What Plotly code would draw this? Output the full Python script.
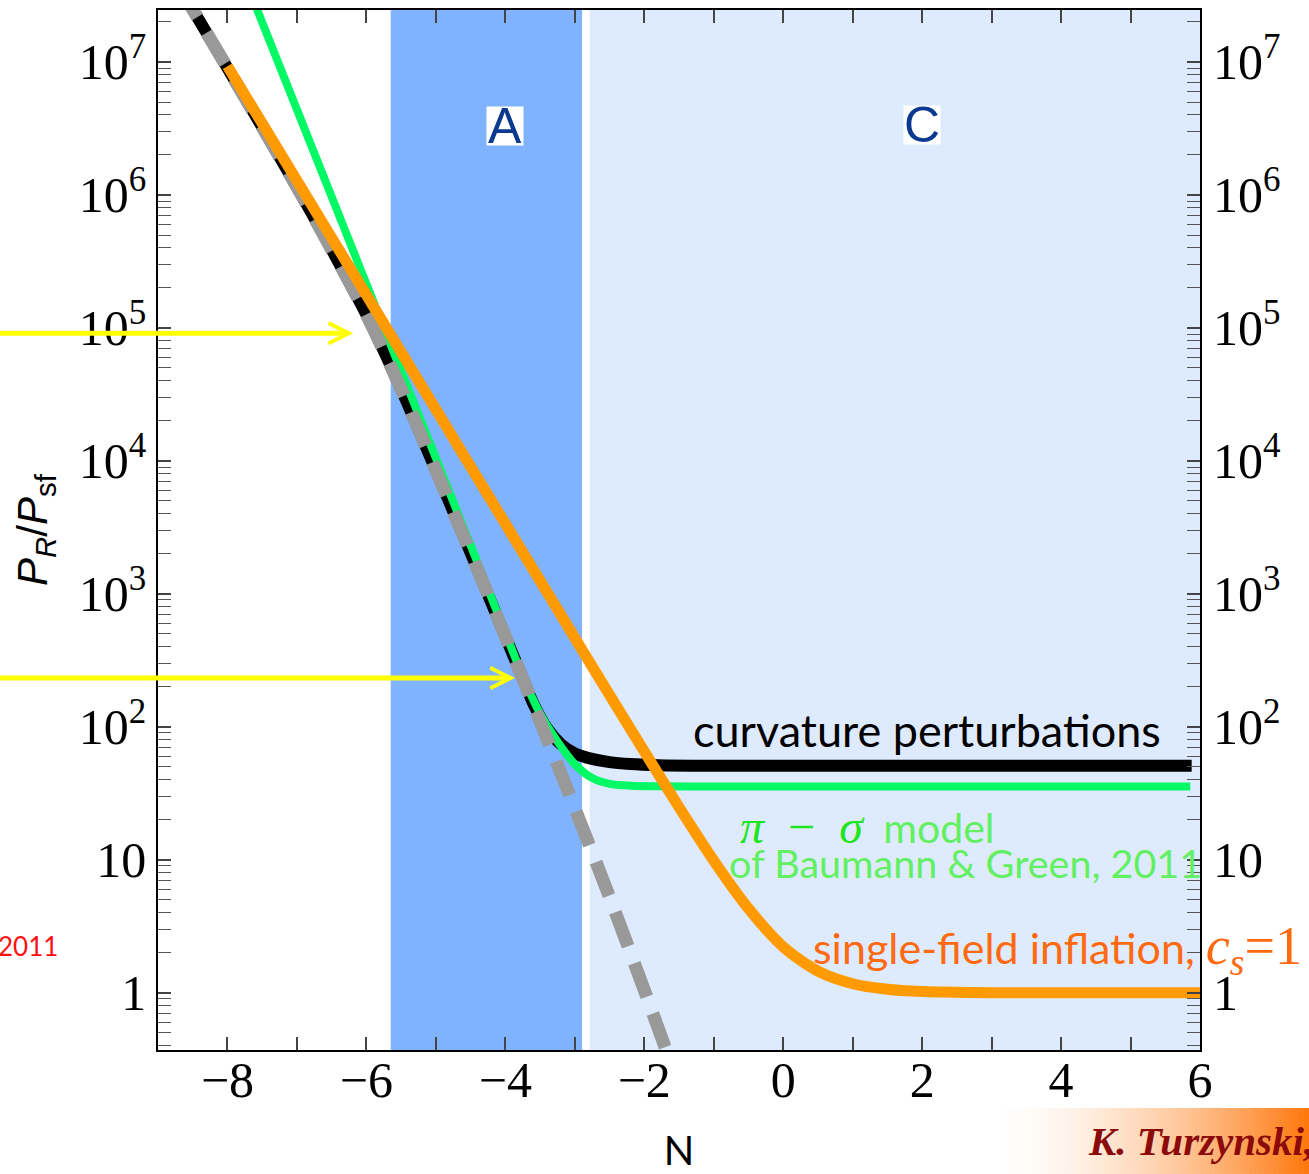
import numpy as np
import plotly.graph_objects as go

# ---- curves: power spectrum ratio P_R / P_sf versus e-fold number N ----
# curvature perturbations (full two-field result)
N_curv = [-8.70, -8.00, -7.50, -7.00, -6.50, -6.00, -5.50, -5.00, -4.50, -4.00,
          -3.80, -3.60, -3.40, -3.20, -3.00, -2.80, -2.50, -2.20, -1.80, -1.00,
          0.00, 2.00, 4.00, 5.88]
P_curv = [3.72e7, 9.02e6, 3.24e6, 1.15e6, 3.89e5, 1.26e5, 3.47e4, 8.51e3, 2.04e3, 479,
          269, 151, 97.7, 74.1, 63.1, 58.2, 54.3, 52.5, 51.5, 51.05,
          51.0, 51.0, 51.0, 51.0]

# pi - sigma model (Baumann & Green, 2011)
N_pisigma = [-7.70, -7.00, -6.50, -6.00, -5.50, -5.00, -4.50, -4.00, -3.75, -3.50,
             -3.25, -3.00, -2.75, -2.50, -2.20, -1.80, -1.00, 0.00, 2.00, 4.00, 5.86]
P_pisigma = [3.63e7, 4.39e6, 9.70e5, 2.14e5, 4.74e4, 1.05e4, 2.32e3, 512, 241, 126,
             77.6, 52.5, 41.2, 37.3, 36.1, 35.7, 35.6, 35.6, 35.6, 35.6, 35.6]

# growing-mode approximation (grey dashed)
N_growth = [-8.70, -8.00, -7.50, -7.00, -6.50, -6.00, -5.50, -5.00, -4.50, -4.00,
            -3.50, -3.00, -2.50, -2.00, -1.50]
P_growth = [3.72e7, 9.02e6, 3.24e6, 1.15e6, 3.89e5, 1.26e5, 3.47e4, 8.51e3, 2.04e3, 479,
            110, 24.5, 5.25, 1.05, 0.20]

# single-field inflation with c_s = 1
N_single = [-8.00, -7.00, -6.00, -5.00, -4.00, -3.00, -2.50, -2.00, -1.50, -1.00,
            -0.50, 0.00, 0.50, 1.00, 1.50, 2.00, 3.00, 4.00, 5.00, 6.00]
P_single = [9.29e6, 1.28e6, 1.77e5, 2.44e4, 3.37e3, 467, 174, 65.3, 24.9, 9.87,
            4.30, 2.22, 1.455, 1.17, 1.063, 1.023, 1.003, 1.0, 1.0, 1.0]

# ---- shaded phases ----
region_names = ["A", "C"]
region_start = [-5.65, -2.785]
region_end = [-2.895, 6.0]
region_colors = ["#80b3ff", "#deeafd"]
region_label_N = [-4.0, 2.0]
region_label_P = [3.3e6, 3.36e6]

# ---- yellow pointers ----
arrow_tip_N = [-6.19, -3.86]
arrow_tip_P = [9.12e4, 233]
arrow_tail_N = -11.5

# ---- axes ----
x_ticks = list(range(-8, 7))
x_tick_labels = ["\u22128", "", "\u22126", "", "\u22124", "", "\u22122", "",
                 "0", "", "2", "", "4", "", "6"]
y_major = [1, 10, 1e2, 1e3, 1e4, 1e5, 1e6, 1e7]
y_tick_labels = ["1", "10", "10<sup>2</sup>", "10<sup>3</sup>", "10<sup>4</sup>",
                 "10<sup>5</sup>", "10<sup>6</sup>", "10<sup>7</sup>"]
y_minor = [k * 10.0 ** e for e in range(-1, 8) for k in range(2, 10)]

x_range = [-9, 6]
y_range = [-0.43, 7.391]

fig = go.Figure()

fig.add_trace(go.Scatter(x=N_curv, y=P_curv, mode="lines",
                         line=dict(color="black", width=12, shape="spline", smoothing=0.8),
                         hoverinfo="skip"))
fig.add_trace(go.Scatter(x=N_pisigma, y=P_pisigma, mode="lines",
                         line=dict(color="#00f964", width=8, shape="spline", smoothing=0.8),
                         hoverinfo="skip"))
fig.add_trace(go.Scatter(x=N_growth, y=P_growth, mode="lines",
                         line=dict(color="#999999", width=13, dash="36px,18px",
                                   shape="spline", smoothing=0.8),
                         hoverinfo="skip"))
fig.add_trace(go.Scatter(x=N_single, y=P_single, mode="lines",
                         line=dict(color="#ff9a00", width=11, shape="spline", smoothing=0.8),
                         hoverinfo="skip"))
# carrier for the right-hand tick labels
fig.add_trace(go.Scatter(x=N_single[:1], y=P_single[:1], yaxis="y2", mode="markers",
                         marker=dict(opacity=0), hoverinfo="skip"))

shapes = []
for x0, x1, col in zip(region_start, region_end, region_colors):
    shapes.append(dict(type="rect", xref="x", yref="paper", x0=x0, x1=x1, y0=0, y1=1,
                       fillcolor=col, line=dict(width=0), layer="below"))

# signature strip: white fading into orange
n_strip = 64
sx0, sx1 = 0.8004, 1.1046
for i in range(n_strip):
    t = (i + 0.5) / n_strip
    f = t ** 1.7
    g = round(255 + (118 - 255) * f)
    b = round(255 + (10 - 255) * f)
    shapes.append(dict(type="rect", xref="paper", yref="paper",
                       x0=sx0 + (sx1 - sx0) * i / n_strip,
                       x1=sx0 + (sx1 - sx0) * (i + 1) / n_strip + 0.001,
                       y0=-0.1192, y1=-0.0558,
                       fillcolor=f"rgb(255,{g},{b})", line=dict(width=0), layer="above"))

annotations = []
for name, nx, py in zip(region_names, region_label_N, region_label_P):
    annotations.append(dict(x=nx, y=np.log10(py), xref="x", yref="y", text=name,
                            showarrow=False, font=dict(family="Liberation Sans", size=50,
                                                       color="#0a3a8f"),
                            bgcolor="white", borderpad=0, width=36, height=38))

for tn, tp in zip(arrow_tip_N, arrow_tip_P):
    annotations.append(dict(x=tn, y=np.log10(tp), xref="x", yref="y", text="",
                            showarrow=True, axref="x", ayref="y",
                            ax=arrow_tail_N, ay=np.log10(tp),
                            arrowhead=5, arrowsize=0.8, arrowwidth=5,
                            arrowcolor="#ffff00", standoff=0))

annotations += [
    dict(x=5.47, y=np.log10(95.5), xref="x", yref="y", xanchor="right", yanchor="middle",
         text="curvature perturbations", showarrow=False,
         font=dict(family="Lato", size=45, color="black")),
    dict(x=-0.65, y=np.log10(17.8), xref="x", yref="y", xanchor="left", yanchor="middle",
         text='<span style="font-family:Liberation Serif;font-size:48px;color:#1ee61e">'
              '<i>\u03c0</i>\u2002\u2212\u2002<i>\u03c3</i></span>\u2002model',
         showarrow=False, font=dict(family="Lato", size=41, color="#62f062")),
    dict(x=-0.81, y=np.log10(9.6), xref="x", yref="y", xanchor="left", yanchor="middle",
         text="of Baumann &amp; Green, 2011", showarrow=False,
         font=dict(family="Lato", size=39.5, color="#62f062")),
    dict(x=0.40, y=np.log10(2.12), xref="x", yref="y", xanchor="left", yanchor="middle",
         text='single-field inflation, <span style="font-family:Liberation Serif;font-size:54px">'
              '<i>c</i><sub><i>s</i></sub>=1</span>',
         showarrow=False, font=dict(family="Lato", size=43, color="#ff6a10")),
    dict(x=-0.094, y=0.1, xref="paper", yref="paper", xanchor="right", yanchor="middle",
         text="2011", showarrow=False, font=dict(family="Lato", size=26, color="#ff1010")),
    dict(x=0.8905, y=-0.0875, xref="paper", yref="paper", xanchor="left", yanchor="middle",
         text="<b><i>K. Turzynski,</i></b>", showarrow=False,
         font=dict(family="Liberation Serif", size=41, color="#8b0a0a")),
]

tick_font = dict(family="Liberation Serif", size=50, color="black")

fig.update_layout(
    width=1309, height=1174,
    margin=dict(l=158, r=109, t=10, b=124),
    paper_bgcolor="white", plot_bgcolor="white",
    showlegend=False,
    shapes=shapes,
    annotations=annotations,
    xaxis=dict(range=x_range, tickvals=x_ticks, ticktext=x_tick_labels,
               ticks="inside", ticklen=13, tickwidth=1.5, tickcolor="#444",
               showline=True, linecolor="black", linewidth=1.5, mirror="ticks",
               showgrid=False, zeroline=False, tickfont=tick_font,
               ticklabelstandoff=-15, automargin=False,
               title=dict(text="N", font=dict(family="Lato", size=40, color="black"),
                          standoff=30)),
    yaxis=dict(type="log", range=y_range, tickvals=y_major, ticktext=y_tick_labels,
               ticks="inside", ticklen=13, tickwidth=1.5, tickcolor="#444",
               minor=dict(tickvals=y_minor, ticks="inside", ticklen=13, tickwidth=1.3,
                          tickcolor="#555", showgrid=False),
               showline=True, linecolor="black", linewidth=1.5, mirror="ticks",
               showgrid=False, zeroline=False, tickfont=tick_font, automargin=False,
               title=dict(text="<i>P</i><sub><i>R</i></sub>/<i>P</i><sub>sf</sub>",
                          font=dict(family="Liberation Sans", size=42, color="black"),
                          standoff=18)),
    yaxis2=dict(type="log", range=y_range, overlaying="y", side="right",
                tickvals=y_major, ticktext=y_tick_labels, ticks="",
                showline=False, showgrid=False, zeroline=False, tickfont=tick_font,
                ticklabelstandoff=12, automargin=False),
)

fig.write_html("out.html")
